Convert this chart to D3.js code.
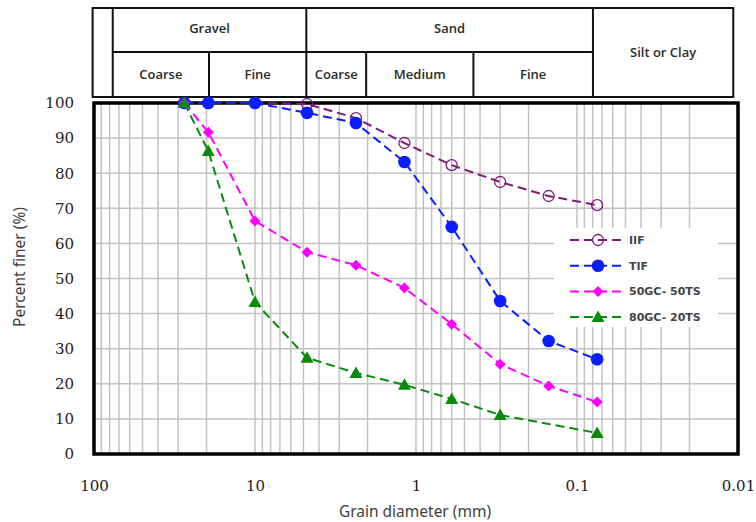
<!DOCTYPE html>
<html>
<head>
<meta charset="utf-8">
<script src="https://cdn.jsdelivr.net/npm/d3@7"></script>
<style>
  body { margin: 0; background: #fff; }
</style>
</head>
<body>
<svg id="chart" width="756" height="522"></svg>
<script>
// grain sizes (mm) read from the sieve points
const sizes = [27.5, 19.5, 10, 4.75, 2.36, 1.18, 0.6, 0.3, 0.15, 0.075]
const iif = [100, 100, 100, 99.7, 95.7, 88.6, 82.3, 77.5, 73.5, 70.9]
const tif = [100, 100, 100, 97.2, 94.3, 83.2, 64.7, 43.6, 32.2, 27.0]
const gc50 = [100, 91.7, 66.4, 57.5, 53.8, 47.3, 37.0, 25.6, 19.4, 14.8]
const gc80 = [100, 86.3, 43.3, 27.4, 23.1, 19.7, 15.7, 11.1, null, 6.0]
const seriesNames = ['IIF', 'TIF', '50GC- 50TS', '80GC- 20TS']
const xTicks = [100, 10, 1, 0.1, 0.01]
const yTicks = [0, 10, 20, 30, 40, 50, 60, 70, 80, 90, 100]

// classification header: boundaries (mm) and labels
const tableEdges = [102, 0.0107]
const mainCuts = [76.5, 4.8, 0.0796]
const subCuts = [19.3, 2.04, 0.44]
const mainLabels = [['Gravel', 76.5, 4.8], ['Sand', 4.8, 0.0796]]
const subLabels = [['Coarse', 76.5, 19.3], ['Fine', 19.3, 4.8], ['Coarse', 4.8, 2.04],
  ['Medium', 2.04, 0.44], ['Fine', 0.44, 0.0796]]

let margin = {top: 103, right: 18, bottom: 68, left: 94}
let svg = d3.select('#chart')
let width = 756 - margin.left - margin.right
let height = 522 - margin.top - margin.bottom

let x = d3.scaleLog().domain([100, 0.01]).range([margin.left, margin.left + width])
let y = d3.scaleLinear().domain([0, 100]).range([margin.top + height, margin.top])

// grid
let grid = svg.append('g').attr('stroke', '#c2c2c2').attr('stroke-width', 1.5)
let minor = []
for (let e = -2; e < 2; e++) {
  for (let k = 1; k < 10; k++) minor.push(k * Math.pow(10, e))
}
grid.selectAll('.v').data(minor.filter(d => d > 0.01 && d < 100)).join('line')
  .attr('x1', d => x(d)).attr('x2', d => x(d))
  .attr('y1', y(0)).attr('y2', y(100))
grid.selectAll('.h').data(yTicks.slice(1, -1)).join('line')
  .attr('x1', x(100)).attr('x2', x(0.01))
  .attr('y1', d => y(d)).attr('y2', d => y(d))

// plot frame
svg.append('rect')
  .attr('x', x(100)).attr('y', y(100))
  .attr('width', x(0.01) - x(100)).attr('height', y(0) - y(100))
  .attr('fill', 'none').attr('stroke', '#000').attr('stroke-width', 3.5)

// axes
svg.append('g')
  .attr('transform', 'translate(0,' + (y(0) + 23) + ')')
  .call(d3.axisBottom(x).tickValues(xTicks).tickSize(0).tickFormat(d3.format('~g')))
  .call(g => g.select('.domain').remove())
  .selectAll('text')
    .attr('font-family', 'DejaVu Serif').attr('font-size', 15).attr('fill', '#222')

svg.append('g')
  .attr('transform', 'translate(' + (x(100) - 17) + ',0)')
  .call(d3.axisLeft(y).tickValues(yTicks).tickSize(0))
  .call(g => g.select('.domain').remove())
  .selectAll('text')
    .attr('font-family', 'DejaVu Serif').attr('font-size', 15).attr('fill', '#222')

svg.append('text')
  .attr('transform', 'translate(25,267) rotate(-90)')
  .attr('text-anchor', 'middle')
  .attr('font-family', 'Noto Sans').attr('font-size', 15.5).attr('fill', '#404040')
  .text('Percent finer (%)')

svg.append('text')
  .attr('x', 415).attr('y', 517)
  .attr('text-anchor', 'middle')
  .attr('font-family', 'Noto Sans').attr('font-size', 15.5).attr('fill', '#404040')
  .text('Grain diameter (mm)')

// header table
let tTop = 8, tMid = 52, tBot = 97
let hdr = svg.append('g').attr('stroke', '#111').attr('stroke-width', 2).attr('fill', 'none')
hdr.append('rect')
  .attr('x', x(tableEdges[0])).attr('y', tTop)
  .attr('width', x(tableEdges[1]) - x(tableEdges[0])).attr('height', tBot - tTop)
hdr.selectAll('.mc').data(mainCuts).join('line')
  .attr('x1', d => x(d)).attr('x2', d => x(d)).attr('y1', tTop).attr('y2', tBot)
hdr.selectAll('.sc').data(subCuts).join('line')
  .attr('x1', d => x(d)).attr('x2', d => x(d)).attr('y1', tMid).attr('y2', tBot)
hdr.append('line')
  .attr('x1', x(mainCuts[0])).attr('x2', x(mainCuts[2])).attr('y1', tMid).attr('y2', tMid)

let hdrText = svg.append('g')
  .attr('font-family', 'Open Sans').attr('font-size', 13).attr('font-weight', 600)
  .attr('fill', '#2a2a2a').attr('text-anchor', 'middle')
hdrText.selectAll('.ml').data(mainLabels).join('text')
  .attr('x', d => (x(d[1]) + x(d[2])) / 2).attr('y', 33).text(d => d[0])
hdrText.selectAll('.sl').data(subLabels).join('text')
  .attr('x', d => (x(d[1]) + x(d[2])) / 2).attr('y', 79).text(d => d[0])
hdrText.append('text')
  .attr('x', (x(mainCuts[2]) + x(tableEdges[1])) / 2).attr('y', 57).text('Silt or Clay')

// series
const colors = ['#83187f', '#0a1eff', '#ff00ff', '#0a8a0a']
const series = [iif, tif, gc50, gc80]

let line = d3.line()
  .x(d => x(d.s))
  .y(d => y(d.v))

function drawMarker (sel, i, cx, cy) {
  let c = colors[i]
  if (i === 0) {
    sel.append('circle').attr('cx', cx).attr('cy', cy).attr('r', 5.5)
      .attr('fill', 'none').attr('stroke', c).attr('stroke-width', 1.3)
  } else if (i === 1) {
    sel.append('circle').attr('cx', cx).attr('cy', cy).attr('r', 6.3).attr('fill', c)
  } else if (i === 2) {
    sel.append('path').attr('transform', 'translate(' + cx + ',' + cy + ')')
      .attr('d', 'M0,-5.5L5.5,0L0,5.5L-5.5,0Z').attr('fill', c)
  } else {
    sel.append('path').attr('transform', 'translate(' + cx + ',' + cy + ')')
      .attr('d', 'M0,-6.5L6.5,5L-6.5,5Z').attr('fill', c)
  }
}

series.forEach((vals, i) => {
  let pts = sizes.map((s, j) => ({s: s, v: vals[j]})).filter(d => d.v !== null)
  let g = svg.append('g')
  g.append('path')
    .datum(pts)
    .attr('fill', 'none')
    .attr('stroke', colors[i])
    .attr('stroke-width', 2)
    .attr('stroke-dasharray', '9,5')
    .attr('d', line)
  pts.forEach(p => drawMarker(g, i, x(p.s), y(p.v)))
})

// legend
let lg = svg.append('g')
lg.append('rect').attr('x', 554).attr('y', 228).attr('width', 164).attr('height', 99).attr('fill', '#fff')
seriesNames.forEach((name, i) => {
  let ly = 240 + i * 25.7
  lg.append('line')
    .attr('x1', 570).attr('x2', 626).attr('y1', ly).attr('y2', ly)
    .attr('stroke', colors[i]).attr('stroke-width', 2).attr('stroke-dasharray', '9,5')
  drawMarker(lg, i, 598, ly)
  lg.append('text')
    .attr('x', 629).attr('y', ly + 4)
    .attr('font-family', 'DejaVu Sans').attr('font-weight', 'bold')
    .attr('font-size', 11).attr('fill', '#444')
    .text(name)
})
</script>
</body>
</html>
